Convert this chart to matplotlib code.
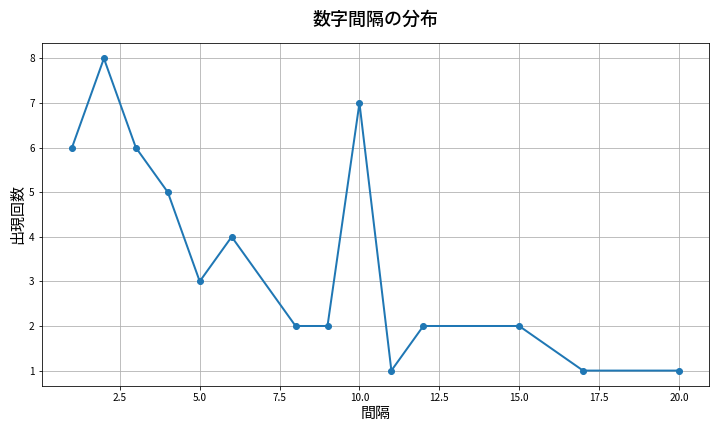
import matplotlib
matplotlib.use("Agg")
import matplotlib.pyplot as plt

plt.rcParams['font.family'] = ['Noto Sans CJK JP', 'DejaVu Sans']

gaps = [1, 2, 3, 4, 5, 6, 8, 9, 10, 11, 12, 15, 17, 20]
counts = [6, 8, 6, 5, 3, 4, 2, 2, 7, 1, 2, 2, 1, 1]

fig, ax = plt.subplots(figsize=(10, 6), dpi=72)
ax.plot(gaps, counts, marker='o', linewidth=2, color='#1f77b4')
ax.set_title('数字間隔の分布', fontsize=18, fontweight='medium', pad=18)
ax.set_xlabel('間隔', fontsize=15)
ax.set_ylabel('出現回数', fontsize=15)
ax.grid(True)
fig.tight_layout()
fig.savefig('out.png', dpi=72)
